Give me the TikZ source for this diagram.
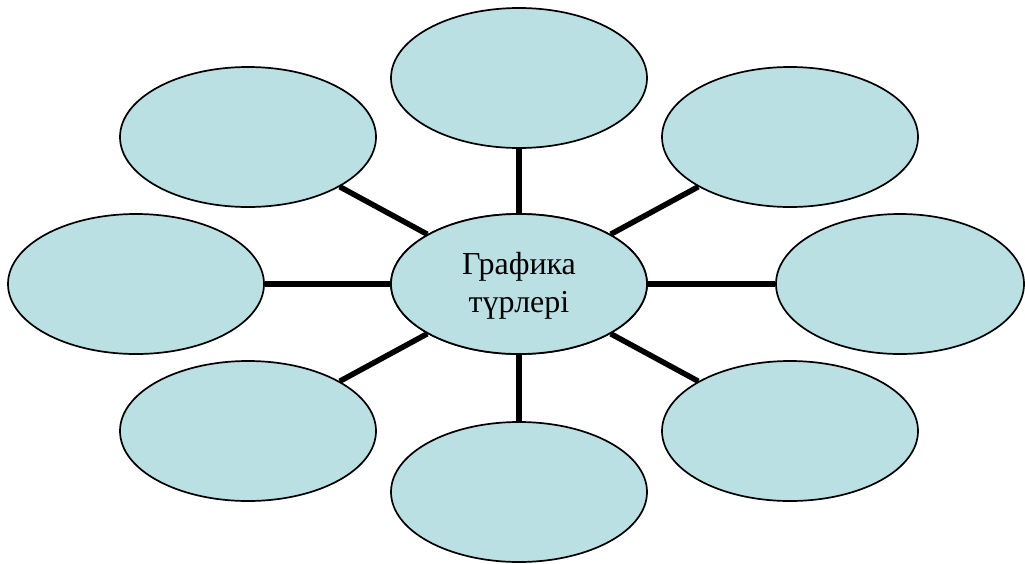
\documentclass[tikz,border=0pt]{standalone}
\usepackage{fontspec}
\setmainfont{Liberation Serif}
\usetikzlibrary{shapes.geometric}
\definecolor{petal}{HTML}{BBE0E3}
\begin{document}
\begin{tikzpicture}[x=1pt,y=-1pt,
  petalnode/.style={ellipse,draw=black,line width=1.7pt,fill=petal,minimum width=256pt,minimum height=140pt,inner sep=0pt},
  spoke/.style={line width=5.5pt,draw=black}]
\useasboundingbox (0,0) rectangle (1025,563);
\node[petalnode] (c) at (519,284) {};
\node[petalnode] (t) at (519,78) {};
\node[petalnode] (tl) at (248,137) {};
\node[petalnode] (tr) at (790,137) {};
\node[petalnode] (l) at (136,284) {};
\node[petalnode,minimum width=248pt] (r) at (900,284) {};
\node[petalnode] (bl) at (248,431) {};
\node[petalnode] (br) at (790,431) {};
\node[petalnode] (b) at (519,492) {};
\foreach \n in {t,tl,tr,l,r,bl,br,b}{
  \draw[spoke] (c) -- (\n);
}
\node[petalnode] at (c) {};
\node[align=center,font=\fontsize{32}{38}\selectfont] (ctext) at (519,286) {Графика\\түрлері};
\end{tikzpicture}
\end{document}
